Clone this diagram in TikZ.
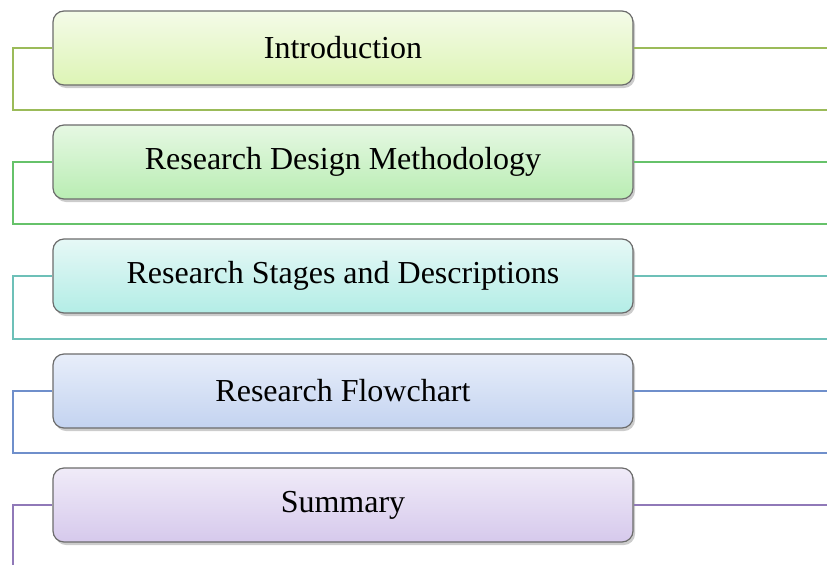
\documentclass[tikz,border=0pt]{standalone}
\usepackage{fontspec}
\setmainfont{Liberation Serif}
\usetikzlibrary{shadows}

\definecolor{lineA}{HTML}{9BBB59}
\definecolor{lineB}{HTML}{66C26A}
\definecolor{lineC}{HTML}{6DC0B8}
\definecolor{lineD}{HTML}{6F8FCB}
\definecolor{lineE}{HTML}{9079B8}

\begin{document}
\begin{tikzpicture}[x=1pt,y=1pt,
    topic/.style={draw=gray!85!black,line width=1.2pt,rounded corners=11pt,
      minimum width=580pt,minimum height=74pt,inner sep=0pt,
      font=\fontsize{32}{38}\selectfont,
      drop shadow={shadow xshift=2pt,shadow yshift=-3pt,opacity=0.4}},
    link/.style={line width=1.6pt}]
    \useasboundingbox (0,0) rectangle (827,-565);

    \node[topic,top color={rgb,255:red,244;green,251;blue,232},bottom color={rgb,255:red,221;green,244;blue,181}] (intro) at (343,-48) {Introduction};
    \node[topic,top color={rgb,255:red,230;green,248;blue,227},bottom color={rgb,255:red,185;green,237;blue,179}] (design) at (343,-162) {Research Design Methodology};
    \node[topic,top color={rgb,255:red,230;green,248;blue,246},bottom color={rgb,255:red,179;green,237;blue,230}] (stages) at (343,-276) {Research Stages and Descriptions};
    \node[topic,top color={rgb,255:red,232;green,238;blue,250},bottom color={rgb,255:red,195;green,211;blue,240}] (chart) at (343,-391) {Research Flowchart};
    \node[topic,top color={rgb,255:red,240;green,235;blue,248},bottom color={rgb,255:red,214;green,201;blue,236}] (summary) at (343,-505) {Summary};

    % free ends of the brackets
    \coordinate (introL) at (13,-110);
    \coordinate (introR) at (827,-110);
    \coordinate (designL) at (13,-224);
    \coordinate (designR) at (827,-224);
    \coordinate (stagesL) at (13,-339);
    \coordinate (stagesR) at (827,-339);
    \coordinate (chartL) at (13,-453);
    \coordinate (chartR) at (827,-453);
    \coordinate (summaryL) at (13,-565);
    \coordinate (edge) at (827,0);

    \draw[link,lineA] (intro.west) -| (introL) -- (introR);
    \draw[link,lineA] (intro.east) -- (intro.east -| edge);
    \draw[link,lineB] (design.west) -| (designL) -- (designR);
    \draw[link,lineB] (design.east) -- (design.east -| edge);
    \draw[link,lineC] (stages.west) -| (stagesL) -- (stagesR);
    \draw[link,lineC] (stages.east) -- (stages.east -| edge);
    \draw[link,lineD] (chart.west) -| (chartL) -- (chartR);
    \draw[link,lineD] (chart.east) -- (chart.east -| edge);
    \draw[link,lineE] (summary.west) -| (summaryL);
    \draw[link,lineE] (summary.east) -- (summary.east -| edge);
\end{tikzpicture}
\end{document}
